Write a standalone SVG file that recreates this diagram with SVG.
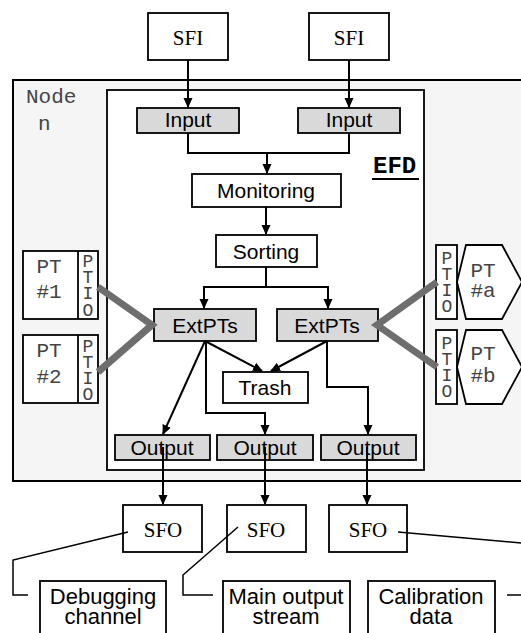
<svg xmlns="http://www.w3.org/2000/svg" width="521" height="633" viewBox="0 0 521 633">
<defs>
<marker id="ah" markerWidth="10" markerHeight="10" refX="9" refY="5" orient="auto" markerUnits="userSpaceOnUse">
<path d="M0,0.5 L10,5 L0,9.5 z" fill="#000"/>
</marker>
<style>
.box{fill:#fff;stroke:#000;stroke-width:1.8}
.gbox{fill:#d9d9d9;stroke:#000;stroke-width:1.8}
.sans{font-family:"Liberation Sans",Arial,sans-serif;font-size:21px;fill:#000;text-anchor:middle}
.serif{font-family:"Liberation Serif","Times New Roman",serif;font-size:21px;fill:#000;text-anchor:middle}
.mono{font-family:"Liberation Mono","Courier New",monospace;font-size:21px;fill:#444}
.io{font-family:"Liberation Mono","Courier New",monospace;font-size:18px;fill:#444;text-anchor:middle}
.mid{text-anchor:middle}
.con{fill:none;stroke:#000;stroke-width:2}
.arr{marker-end:url(#ah)}
.thick{fill:none;stroke:#6e6e6e;stroke-width:7}
.thin{fill:none;stroke:#000;stroke-width:1.5}
</style>
</defs>
<rect width="521" height="633" fill="#fff"/>

<g id="node-n">
<rect x="13" y="80" width="520" height="401" fill="#f5f5f5" stroke="#000" stroke-width="2"/>
<text class="mono" x="26" y="103">Node</text>
<text class="mono" x="38" y="130">n</text>
</g>

<g id="efd">
<rect x="107" y="90" width="317" height="380" fill="#fff" stroke="#000" stroke-width="1.8"/>
<text class="mono" x="373" y="173" style="font-weight:bold;fill:#000;font-size:24px">EFD</text>
<line x1="372" y1="179" x2="419" y2="179" stroke="#000" stroke-width="2"/>
</g>

<g id="sfi1"><rect class="box" x="148" y="13" width="80" height="47"/><text class="serif" x="188" y="45">SFI</text></g>
<g id="sfi2"><rect class="box" x="309" y="13" width="80" height="47"/><text class="serif" x="349" y="45">SFI</text></g>

<g id="input1"><rect class="gbox" x="137" y="108" width="102" height="25"/><text class="sans" x="188" y="127">Input</text></g>
<g id="input2"><rect class="gbox" x="298" y="108" width="102" height="25"/><text class="sans" x="349" y="127">Input</text></g>

<g id="monitoring"><rect class="box" x="192" y="174" width="149" height="33"/><text class="sans" x="266" y="198">Monitoring</text></g>
<g id="sorting"><rect class="box" x="216" y="235" width="101" height="32"/><text class="sans" x="266" y="259">Sorting</text></g>

<g id="extpts1"><rect class="gbox" x="154" y="309" width="102" height="32"/><text class="sans" x="205" y="333">ExtPTs</text></g>
<g id="extpts2"><rect class="gbox" x="277" y="309" width="101" height="32"/><text class="sans" x="327" y="333">ExtPTs</text></g>

<g id="trash"><rect class="box" x="223" y="372" width="85" height="31"/><text class="sans" x="265" y="395">Trash</text></g>

<g id="output1"><rect class="gbox" x="115" y="435" width="95" height="25"/><text class="sans" x="162" y="455">Output</text></g>
<g id="output2"><rect class="gbox" x="217" y="435" width="96" height="25"/><text class="sans" x="265" y="455">Output</text></g>
<g id="output3"><rect class="gbox" x="321" y="435" width="95" height="25"/><text class="sans" x="368" y="455">Output</text></g>

<g id="pt1">
<rect class="box" x="23" y="251" width="75" height="68"/>
<line x1="78" y1="251" x2="78" y2="319" stroke="#000" stroke-width="1.8"/>
<text class="mono mid" x="49" y="273">PT</text>
<text class="mono mid" x="49" y="298">#1</text>
<text class="io" x="88" y="267">P</text><text class="io" x="88" y="283">T</text><text class="io" x="88" y="299">I</text><text class="io" x="88" y="316">O</text>
</g>
<g id="pt2">
<rect class="box" x="23" y="335" width="75" height="68"/>
<line x1="78" y1="335" x2="78" y2="403" stroke="#000" stroke-width="1.8"/>
<text class="mono mid" x="49" y="357">PT</text>
<text class="mono mid" x="49" y="383">#2</text>
<text class="io" x="88" y="352">P</text><text class="io" x="88" y="368">T</text><text class="io" x="88" y="384">I</text><text class="io" x="88" y="400">O</text>
</g>
<g id="pta">
<rect class="box" x="436" y="245" width="21" height="74"/>
<polygon class="box" points="457,282 466,245 502,245 522,282 502,319 466,319"/>
<text class="mono mid" x="483" y="277">PT</text>
<text class="mono mid" x="483" y="297">#a</text>
<text class="io" x="447" y="264">P</text><text class="io" x="447" y="280">T</text><text class="io" x="447" y="296">I</text><text class="io" x="447" y="312">O</text>
</g>
<g id="ptb">
<rect class="box" x="436" y="330" width="21" height="74"/>
<polygon class="box" points="457,367 466,330 502,330 522,367 502,404 466,404"/>
<text class="mono mid" x="483" y="360">PT</text>
<text class="mono mid" x="483" y="382">#b</text>
<text class="io" x="447" y="349">P</text><text class="io" x="447" y="365">T</text><text class="io" x="447" y="381">I</text><text class="io" x="447" y="397">O</text>
</g>

<g id="sfo1"><rect class="box" x="123" y="505" width="79" height="47"/><text class="serif" x="163" y="537">SFO</text></g>
<g id="sfo2"><rect class="box" x="227" y="505" width="79" height="47"/><text class="serif" x="266" y="537">SFO</text></g>
<g id="sfo3"><rect class="box" x="329" y="505" width="78" height="47"/><text class="serif" x="368" y="537">SFO</text></g>

<g id="debugging"><rect class="box" x="40" y="581" width="126" height="60"/><text class="sans" x="103" y="604" style="font-size:22px">Debugging</text><text class="sans" x="103" y="624" style="font-size:22px">channel</text></g>
<g id="mainoutput"><rect class="box" x="223" y="581" width="127" height="60"/><text class="sans" x="286" y="604" style="font-size:22px">Main output</text><text class="sans" x="286" y="624" style="font-size:22px">stream</text></g>
<g id="calibration"><rect class="box" x="368" y="581" width="127" height="60"/><text class="sans" x="431" y="604" style="font-size:22px">Calibration</text><text class="sans" x="431" y="624" style="font-size:22px">data</text></g>

<g id="connectors">
<path class="con arr" d="M188,60 V107"/>
<path class="con arr" d="M349,60 V107"/>
<path class="con" d="M188,133 V153 H349 V133"/>
<path class="con arr" d="M267,153 V173"/>
<path class="con arr" d="M266,207 V234"/>
<path class="con" d="M266,267 V287"/>
<path class="con arr" d="M204,287 V308"/>
<path class="con arr" d="M328,287 V308"/>
<path class="con" d="M203,287 H329"/>
<path class="con arr" d="M205,341 L163,434"/>
<path class="con arr" d="M205,341 L262,371"/>
<path class="con arr" d="M206,341 V413 H265 V434"/>
<path class="con arr" d="M327,341 L271,371"/>
<path class="con arr" d="M327,341 V387 H368 V434"/>
<path class="con arr" d="M163,447 V504"/>
<path class="con arr" d="M265,447 V504"/>
<path class="con arr" d="M367,447 V504"/>
<path class="thick" d="M98,287 L152,325 L98,372"/>
<path class="thick" d="M437,282 L377,325 L437,367"/>
<path class="thin" d="M128,532 L13,560 V595 H28"/>
<path class="thin" d="M238,527 L183,575 V595 H213"/>
<path class="thin" d="M398,532 L521,543"/>
<path class="thin" d="M507,595 H521"/>
</g>
</svg>
